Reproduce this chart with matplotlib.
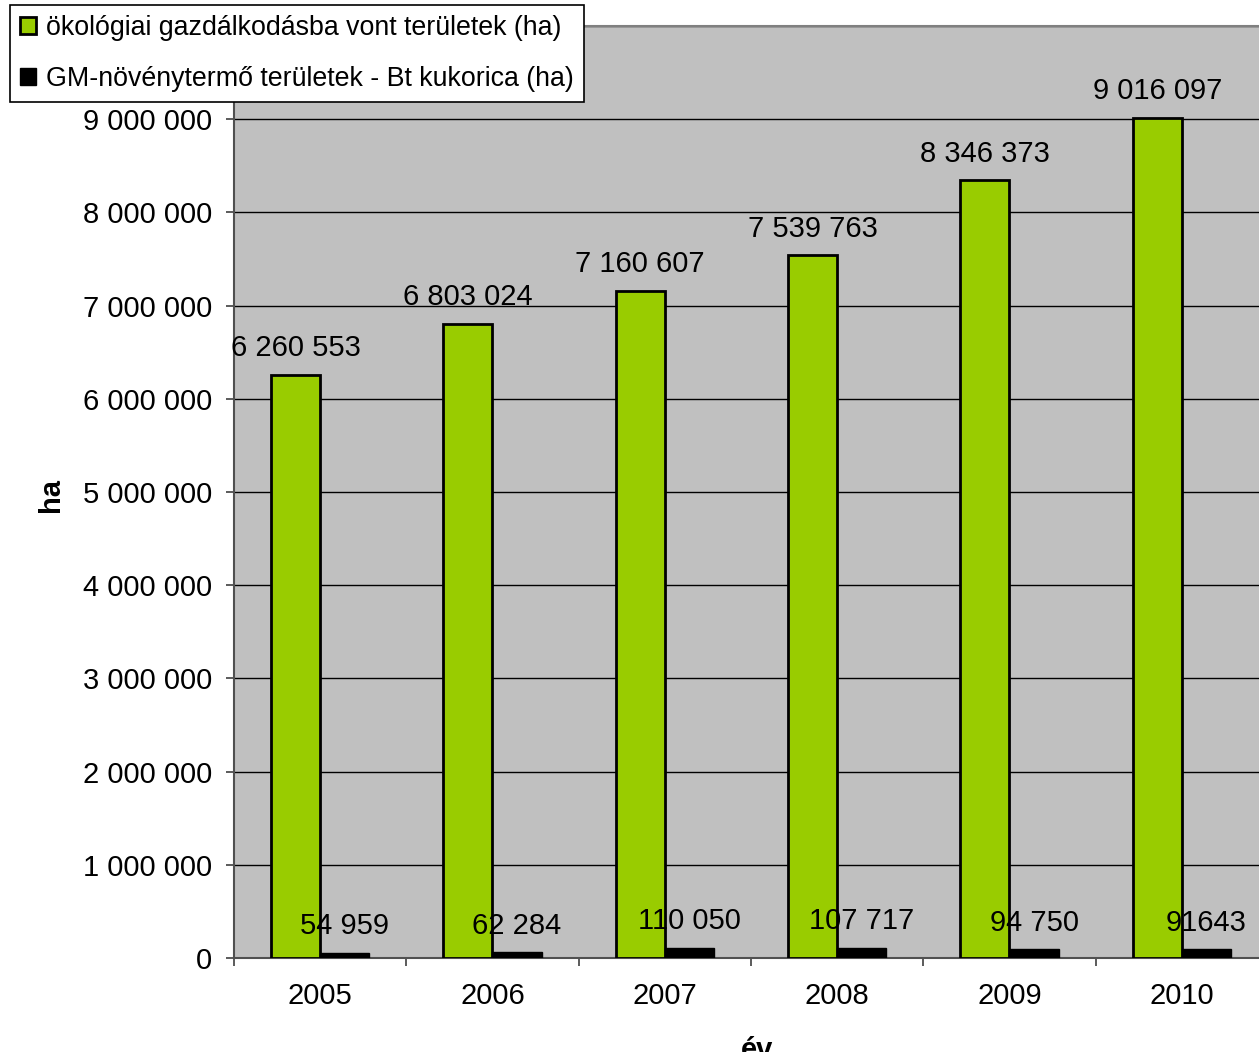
import matplotlib
matplotlib.use("Agg")
import matplotlib.pyplot as plt
import numpy as np
from matplotlib.ticker import FuncFormatter, FixedLocator

plt.rcParams["font.family"] = ["Liberation Sans", "DejaVu Sans"]

years = ["2005", "2006", "2007", "2008", "2009", "2010"]
organic_ha = [6260553, 6803024, 7160607, 7539763, 8346373, 9016097]
gm_maize_ha = [54959, 62284, 110050, 107717, 94750, 91643]
organic_labels = ["6 260 553", "6 803 024", "7 160 607", "7 539 763", "8 346 373", "9 016 097"]
gm_labels = ["54 959", "62 284", "110 050", "107 717", "94 750", "91643"]

GREEN = "#99CC00"
PLOT_BG = "#C0C0C0"
FS = 21
Y_MAX = 10_000_000

W, H = 1259, 1052
fig = plt.figure(figsize=(W / 100, H / 100), dpi=100)
# plot area runs a little past the right edge of the image
ax = fig.add_axes([234 / W, 1 - 958 / H, 1034 / W, (958 - 26) / H])
ax.set_facecolor(PLOT_BG)

x = np.arange(len(years))
bw = 1 / 3.5
ax.bar(x - bw / 2, organic_ha, width=bw, color=GREEN, edgecolor="black", linewidth=2, zorder=3,
       label="ökológiai gazdálkodásba vont területek (ha)")
ax.bar(x + bw / 2, gm_maize_ha, width=bw, color="black", edgecolor="black", linewidth=1, zorder=3,
       label="GM-növénytermő területek - Bt kukorica (ha)")

for xi, v, s in zip(x, organic_ha, organic_labels):
    ax.annotate(s, (xi - bw / 2, v), xytext=(0, 9), textcoords="offset points",
                ha="center", va="bottom", fontsize=FS, zorder=4)
for xi, v, s in zip(x, gm_maize_ha, gm_labels):
    ax.annotate(s, (xi + bw / 2, v), xytext=(0, 9), textcoords="offset points",
                ha="center", va="bottom", fontsize=FS, zorder=4)


def fmt_tick(v, pos):
    # the top label sits under the legend box
    if v >= Y_MAX:
        return ""
    return f"{v:,.0f}".replace(",", " ")


ax.set_xlim(-0.5, len(years) - 0.5)
ax.set_ylim(0, Y_MAX)
ax.yaxis.set_major_locator(FixedLocator(np.arange(0, Y_MAX + 1, 1_000_000)))
ax.yaxis.set_major_formatter(FuncFormatter(fmt_tick))
ax.grid(axis="y", color="black", linewidth=1, zorder=1)
ax.set_axisbelow(True)

ax.set_xticks(x)
ax.set_xticklabels(years)
ax.set_xticks(np.arange(-0.5, len(years)), minor=True)
ax.tick_params(axis="x", which="major", length=0, pad=17, labelsize=FS)
ax.tick_params(axis="x", which="minor", length=6, width=1.2, color="#404040", direction="out")
ax.tick_params(axis="y", length=6, width=1.2, color="#404040", pad=10, labelsize=FS)

for side in ["left", "bottom"]:
    ax.spines[side].set_color("#505050")
    ax.spines[side].set_linewidth(1.5)
ax.spines["top"].set_color("#808080")
ax.spines["top"].set_linewidth(1.5)
ax.spines["right"].set_visible(False)

leg = ax.legend(loc="upper left", bbox_to_anchor=(10 / W, 1 - 5 / H), bbox_transform=fig.transFigure,
                fontsize=19.3, frameon=True, fancybox=False, framealpha=1, edgecolor="black",
                handlelength=0.6, handleheight=0.6, handletextpad=0.35, labelspacing=0.92,
                borderpad=0.38, borderaxespad=0)
leg.get_frame().set_linewidth(1.2)
leg.set_zorder(10)

fig.text(51 / W, 1 - 495 / H, "ha", rotation=90, ha="center", va="center", fontsize=FS, fontweight="bold")
fig.text(757 / W, 1 - 1036 / H, "év", ha="center", va="top", fontsize=FS, fontweight="bold")

fig.savefig("out.png", dpi=100)
